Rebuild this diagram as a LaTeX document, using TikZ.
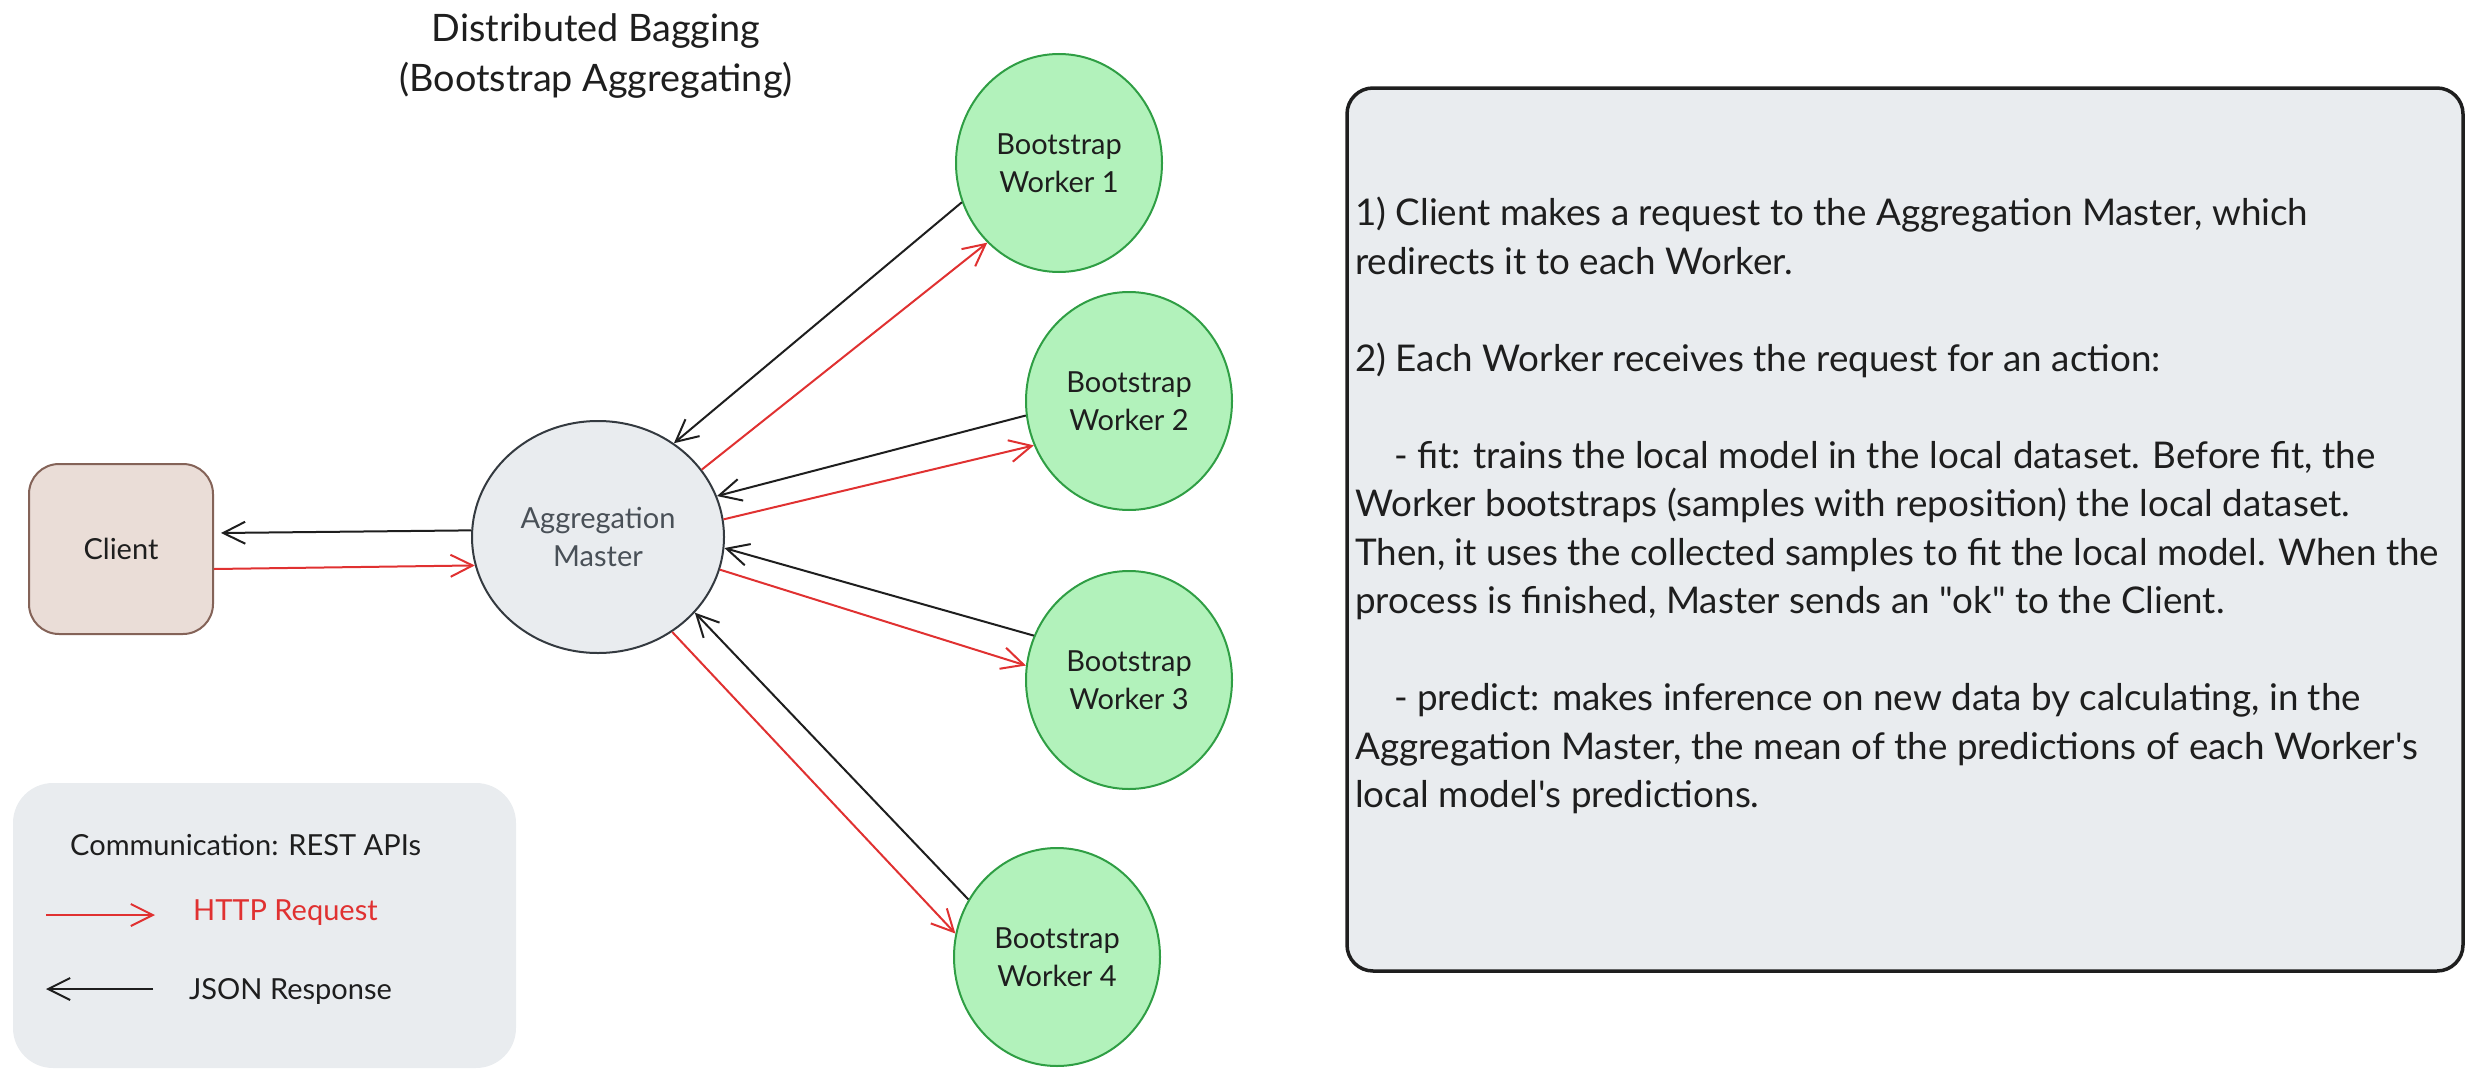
\documentclass[tikz,border=0pt]{standalone}
\usepackage{fontspec}
\setmainfont{Lato}
\newfontfamily\latoplain{Lato}
\usetikzlibrary{arrows.meta,shapes.geometric}
\definecolor{ink}{HTML}{1E1E1E}
\definecolor{req}{HTML}{E03131}
\definecolor{clientfill}{HTML}{EADDD7}
\definecolor{clientdraw}{HTML}{846358}
\definecolor{grayfill}{HTML}{E9ECEF}
\definecolor{masterdraw}{HTML}{343A40}
\definecolor{mastertext}{HTML}{495057}
\definecolor{workerfill}{HTML}{B2F2BB}
\definecolor{workerdraw}{HTML}{2F9E44}
\begin{document}
\begin{tikzpicture}[x=1pt,y=-1pt,
  nodefont/.style={font=\fontsize{29}{38}\selectfont},
  worker/.style={ellipse,draw=workerdraw,fill=workerfill,line width=2pt,minimum width=206pt,minimum height=218pt,inner sep=0pt,align=center,nodefont,text=ink},
  reqarrow/.style={draw=req,line width=2pt,-{Straight Barb[length=22pt,width=22pt,line width=2pt]}},
  resarrow/.style={draw=ink,line width=2pt,-{Straight Barb[length=22pt,width=22pt,line width=2pt]}}
]
\path[use as bounding box] (0,0) rectangle (2474,1081);

% title
\node[font=\fontsize{37.8}{50}\selectfont,align=center,text=ink] (title) at (596,56) {Distributed Bagging\\(Bootstrap Aggregating)};

% client
\node[draw=clientdraw,fill=clientfill,line width=2pt,rounded corners=30pt,minimum width=184pt,minimum height=170pt,nodefont,text=ink] (client) at (121,549) {Client};

% master
\node[ellipse,draw=masterdraw,fill=grayfill,line width=2pt,minimum width=252pt,minimum height=232pt,inner sep=0pt,align=center,nodefont,text=mastertext] (master) at (598,537) {Aggregation\\Master};

% workers
\node[worker] (w1) at (1059,163) {Bootstrap\\Worker 1};
\node[worker] (w2) at (1129,401) {Bootstrap\\Worker 2};
\node[worker] (w3) at (1129,680) {Bootstrap\\Worker 3};
\node[worker] (w4) at (1057,957) {Bootstrap\\Worker 4};

% connectors
\draw[resarrow] (master.177) -- ([xshift=7pt,yshift=16pt]client.east);
\draw[reqarrow] ([yshift=-20pt]client.east) -- (master.193);

\draw[resarrow] (w1.202) -- (master.51);
\draw[reqarrow] (master.33) -- (w1.228);

\draw[resarrow] (w2.188) -- (master.19);
\draw[reqarrow] (master.8) -- (w2.205);

\draw[resarrow] (w3.155) -- (master.-5);
\draw[reqarrow] (master.-15) -- (w3.172);

\draw[reqarrow] (master.-52) -- (w4.167);
\draw[resarrow] (w4.147) -- (master.-38);

% description box
\node[draw=ink,fill=grayfill,line width=3.5pt,rounded corners=26pt,minimum width=1116pt,minimum height=883pt,inner sep=0pt] (descbox) at (1905,529.5) {};
\node[anchor=north west,inner sep=0pt,align=left,font=\latoplain\fontsize{36.8}{48.5}\selectfont,text=ink] (desc) at (1355,197) {%
1) Client makes a request to the Aggregation Master, which\\
redirects it to each Worker.\\
~\\
2) Each Worker receives the request for an action:\\
~\\
\hspace*{39pt}- fit: trains the local model in the local dataset. Before fit, the\\
Worker bootstraps (samples with reposition) the local dataset.\\
Then, it uses the collected samples to fit the local model. When the\\
process is finished, Master sends an "ok" to the Client.\\
~\\
\hspace*{39pt}- predict: makes inference on new data by calculating, in the\\
Aggregation Master, the mean of the predictions of each Worker's\\
local model's predictions.};

% legend
\node[fill=grayfill,rounded corners=40pt,minimum width=503pt,minimum height=285pt,inner sep=0pt] (legend) at (264.5,925.5) {};
\node[anchor=west,inner sep=0pt,font=\fontsize{29}{36}\selectfont,text=ink] (commlabel) at (70,845) {Communication: REST APIs};
\coordinate (reqa) at (46,915);
\coordinate (reqb) at (155,915);
\draw[reqarrow] (reqa) -- (reqb);
\node[anchor=west,inner sep=0pt,font=\fontsize{29}{36}\selectfont,text=req] (reqlabel) at (193,913) {HTTP Request};
\coordinate (resa) at (153,989);
\coordinate (resb) at (46,989);
\draw[resarrow] (resa) -- (resb);
\node[anchor=west,inner sep=0pt,font=\fontsize{29}{36}\selectfont,text=ink] (reslabel) at (189,991) {JSON Response};
\end{tikzpicture}
\end{document}
